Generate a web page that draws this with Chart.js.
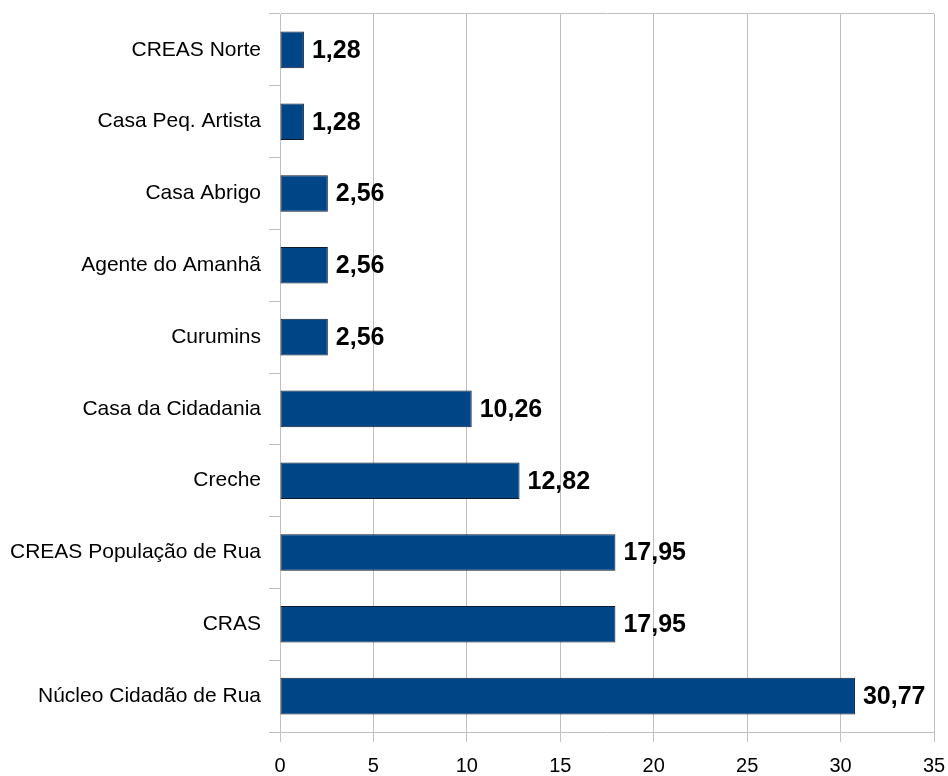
<!DOCTYPE html>
<html>
<head>
<meta charset="utf-8">
<script src="https://cdn.jsdelivr.net/npm/chart.js@4"></script>
<style>
  html, body { margin: 0; padding: 0; background: #ffffff; }
  #wrap { width: 948px; height: 776px; }
</style>
</head>
<body>
<div id="wrap"><canvas id="c" width="948" height="776"></canvas></div>
<script>
// Participação por serviço (%)
const categories = [
  'CREAS Norte',
  'Casa Peq. Artista',
  'Casa Abrigo',
  'Agente do Amanhã',
  'Curumins',
  'Casa da Cidadania',
  'Creche',
  'CREAS População de Rua',
  'CRAS',
  'Núcleo Cidadão de Rua'
];
const values = [1.28, 1.28, 2.56, 2.56, 2.56, 10.26, 12.82, 17.95, 17.95, 30.77];
const xTicks = [0, 5, 10, 15, 20, 25, 30, 35];

const GRID = '#c0c0c0';

// Rótulos de valor em negrito à direita de cada barra
const valueLabels = {
  id: 'valueLabels',
  afterDatasetsDraw(chart) {
    const ctx = chart.ctx;
    const meta = chart.getDatasetMeta(0);
    ctx.save();
    ctx.font = 'bold 25px "Liberation Sans", Arial, sans-serif';
    ctx.fillStyle = '#000000';
    ctx.textAlign = 'left';
    ctx.textBaseline = 'middle';
    meta.data.forEach((bar, i) => {
      const txt = values[i].toFixed(2).replace('.', ',');
      ctx.fillText(txt, bar.x + 8, bar.y + 1);
    });
    ctx.restore();
  }
};

new Chart(document.getElementById('c'), {
  type: 'bar',
  data: {
    labels: categories,
    datasets: [{
      data: values,
      backgroundColor: '#004586',
      borderColor: '#0d1a2b',
      borderWidth: 1,
      borderSkipped: false,
      categoryPercentage: 1.0,
      barPercentage: 0.51
    }]
  },
  options: {
    indexAxis: 'y',
    responsive: false,
    animation: false,
    devicePixelRatio: 1,
    layout: { padding: { left: 0, top: 14, right: 14, bottom: 0 } },
    plugins: {
      legend: { display: false },
      tooltip: { enabled: false }
    },
    scales: {
      x: {
        type: 'linear',
        min: 0,
        max: 35,
        afterBuildTicks(axis) { axis.ticks = xTicks.map(v => ({ value: v })); },
        afterFit(axis) {
          axis.height = 44;
          axis.paddingLeft = 0;
          axis.paddingRight = 0;
        },
        border: { display: true, color: GRID, width: 1 },
        grid: { display: true, color: GRID, lineWidth: 1, tickLength: 10, drawOnChartArea: true },
        ticks: {
          color: '#000000',
          padding: 12,
          font: { family: '"Liberation Sans", Arial, sans-serif', size: 20 }
        }
      },
      y: {
        type: 'category',
        offset: true,
        afterFit(axis) {
          axis.width = 280;
          axis.paddingTop = 0;
          axis.paddingBottom = 0;
        },
        border: { display: true, color: GRID, width: 1 },
        grid: {
          display: true,
          offset: true,
          drawOnChartArea: true,
          color: ctx => (ctx.index === 0 ? GRID : 'rgba(0,0,0,0)'),
          tickColor: GRID,
          tickLength: 11,
          lineWidth: 1
        },
        ticks: {
          color: '#000000',
          padding: 8,
          font: { family: '"Liberation Sans", Arial, sans-serif', size: 21 }
        }
      }
    }
  },
  plugins: [valueLabels]
});
</script>
</body>
</html>
